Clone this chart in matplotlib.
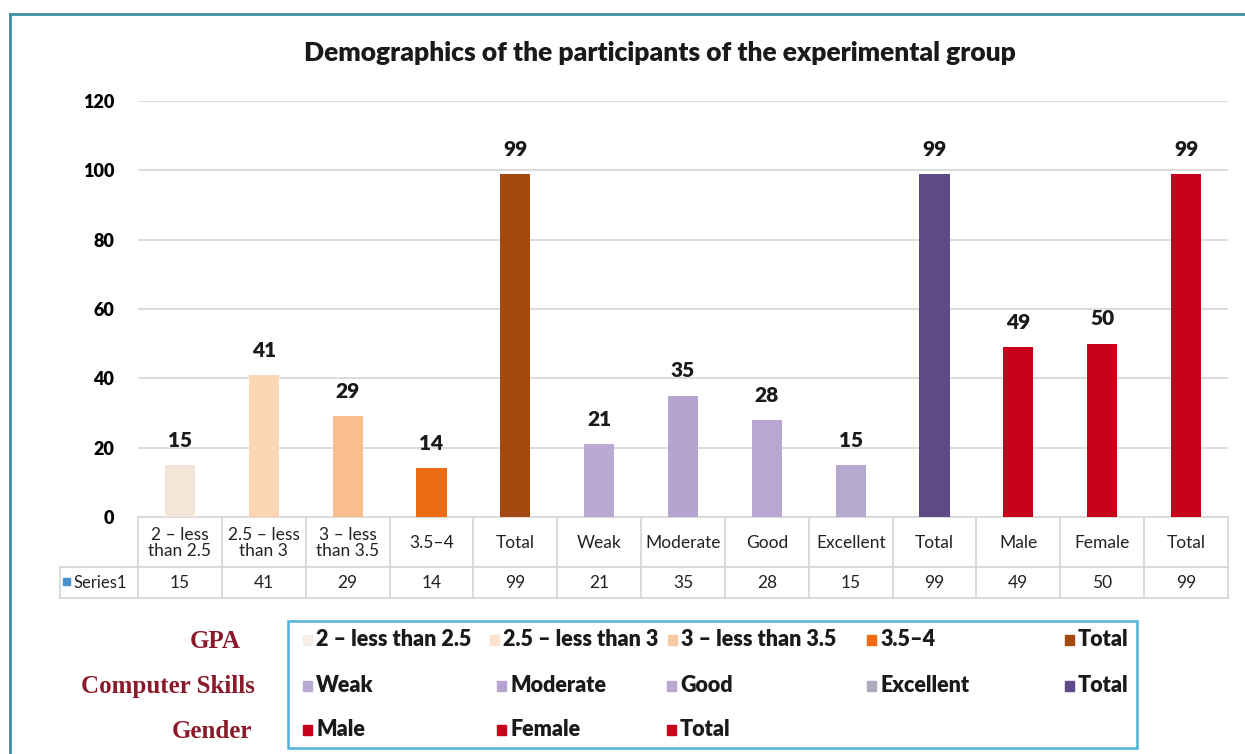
import matplotlib
matplotlib.use("Agg")
import matplotlib.pyplot as plt
from matplotlib.patches import Rectangle
from matplotlib.lines import Line2D

# ---------------- data ----------------
categories = ["2 – less\nthan 2.5", "2.5 – less\nthan 3", "3 – less\nthan 3.5", "3.5–4", "Total",
              "Weak", "Moderate", "Good", "Excellent", "Total",
              "Male", "Female", "Total"]
values = [15, 41, 29, 14, 99, 21, 35, 28, 15, 99, 49, 50, 99]
bar_colors = ["#F4E6D6", "#FCD6B3", "#F9BE8C", "#EC6A12", "#A24A10",
              "#B8AAD3", "#B4A4CF", "#B7A7D2", "#B6A9CF", "#5D4A86",
              "#C8001A", "#C8001A", "#C8001A"]
y_ticks = [0, 20, 40, 60, 80, 100, 120]
series_name = "Series1"
title = "Demographics of the participants of the experimental group"

group_names = ["GPA", "Computer Skills", "Gender"]
legend_rows = [
    ["2 – less than 2.5", "2.5 – less than 3", "3 – less than 3.5", "3.5–4", "Total"],
    ["Weak", "Moderate", "Good", "Excellent", "Total"],
    ["Male", "Female", "Total"],
]
legend_colors = [
    ["#F6EEE6", "#FBE3CF", "#F7C9A0", "#EC6A12", "#A24A10"],
    ["#B8AAD3", "#B4A4CF", "#B7A7D2", "#B0AABB", "#5D4A86"],
    ["#C8001A", "#C8001A", "#C8001A"],
]

W, H = 1245, 754
fig = plt.figure(figsize=(W / 100, H / 100), dpi=100)
fig.patch.set_facecolor("white")

# overlay axes in pixel coordinates
ov = fig.add_axes([0, 0, 1, 1])
ov.set_xlim(0, W)
ov.set_ylim(H, 0)
ov.axis("off")

FONT = "Lato"
BOLD = "heavy"

# ---------------- main axes ----------------
ax_l, ax_r, ax_t, ax_b = 138, 1228, 101, 517
ax = fig.add_axes([ax_l / W, 1 - ax_b / H, (ax_r - ax_l) / W, (ax_b - ax_t) / H])
ax.patch.set_alpha(0)
x = list(range(len(values)))
bars = ax.bar(x, values, width=0.36, color=bar_colors, zorder=3)
ax.set_xlim(-0.5, len(values) - 0.5)
ax.set_ylim(0, 120)
ax.set_yticks(y_ticks)
ax.set_yticklabels([str(t) for t in y_ticks], fontsize=13, fontweight=BOLD, family=FONT)
ax.tick_params(axis="y", length=0, pad=17)
ax.set_xticks([])
for s in ax.spines.values():
    s.set_visible(False)
ax.grid(axis="y", color="#D9D9D9", linewidth=1.3, zorder=0)
for b, v in zip(bars, values):
    ax.annotate(str(v), (b.get_x() + b.get_width() / 2, v), xytext=(0, 11),
                textcoords="offset points", ha="center", va="bottom",
                fontsize=15, fontweight=BOLD, family=FONT, color="#1A1A1A")

# title
fig.text(660 / W, 1 - 53 / H, title, ha="center", va="center",
         fontsize=19, fontweight=BOLD, family=FONT, color="#1A1A1A")

# ---------------- data table ----------------
colw = (ax_r - ax_l) / len(values)
row1_t, row1_b, row2_b = 517, 567, 598
lc = "#D4D4D4"
ov.plot([ax_l, ax_r], [row1_t, row1_t], color=lc, lw=1.2)
ov.plot([60, ax_r], [row1_b, row1_b], color=lc, lw=1.2)
ov.plot([60, ax_r], [row2_b, row2_b], color=lc, lw=1.2)
ov.plot([60, 60], [row1_b, row2_b], color=lc, lw=1.2)
for k in range(len(values) + 1):
    xx = ax_l + k * colw
    ov.plot([xx, xx], [row1_t, row2_b], color=lc, lw=1.2)
for k, (cat, v) in enumerate(zip(categories, values)):
    cx = ax_l + (k + 0.5) * colw
    ov.text(cx, (row1_t + row1_b) / 2 + 1, cat, ha="center", va="center",
            fontsize=12.5, family=FONT, color="#222222", linespacing=1.05)
    ov.text(cx, (row1_b + row2_b) / 2 + 1, str(v), ha="center", va="center",
            fontsize=12.5, family=FONT, color="#222222")
ov.add_patch(Rectangle((63, 578), 7, 7, color="#4A90C8"))
ov.text(73, (row1_b + row2_b) / 2 + 1, series_name, ha="left", va="center",
        fontsize=12, family=FONT, color="#222222")

# ---------------- legend ----------------
ov.add_patch(Rectangle((288, 621), 1137 - 288, 748 - 621, fill=False,
                       edgecolor="#4FB3D9", lw=1.8))
row_y = [640, 686, 730]
col_x = [
    [303, 490, 668, 867, 1065],
    [303, 497, 667, 867, 1065],
    [303, 497, 667],
]
for r, (labels, cols, xs) in enumerate(zip(legend_rows, legend_colors, col_x)):
    for lab, c, xx in zip(labels, cols, xs):
        ov.add_patch(Rectangle((xx, row_y[r] - 5), 9, 10, color=c))
        ov.text(xx + 13, row_y[r], lab, ha="left", va="center",
                fontsize=15.5, fontweight=BOLD, family=FONT, color="#1A1A1A")

group_right = [241, 255, 252]
for name, yy, xr in zip(group_names, row_y, group_right):
    ov.text(xr, yy + 1, name, ha="right", va="center", fontsize=18,
            fontweight="bold", family="Liberation Serif", color="#8A1A2A")

# outer frame
ov.add_line(Line2D([10, W], [14, 14], color="#3E8E9E", lw=2))
ov.add_line(Line2D([10, 10], [14, H], color="#3E8E9E", lw=2))

fig.savefig("out.png", dpi=100)
